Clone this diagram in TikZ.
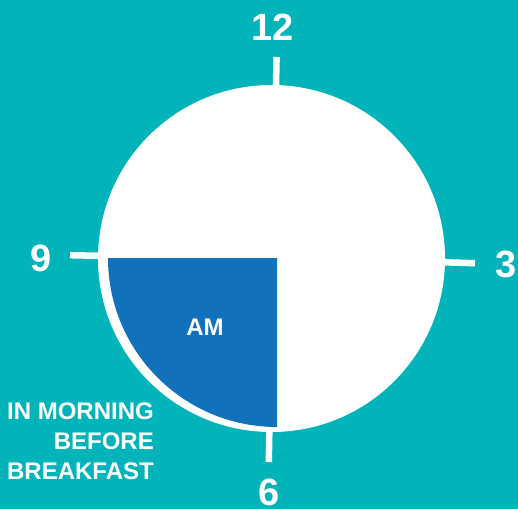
\documentclass[tikz,border=0pt]{standalone}
\usepackage{fontspec}
\setmainfont{Liberation Sans}
\usetikzlibrary{positioning}
\definecolor{bgteal}{HTML}{00B4BA}
\definecolor{amblue}{HTML}{1172BB}

\begin{document}
\begin{tikzpicture}[x=1pt,y=1pt,
hour/.style={text=white,font=\fontsize{38}{38}\selectfont\bfseries,inner sep=0pt},
note/.style={text=white,font=\fontsize{24}{30}\selectfont\bfseries,inner sep=0pt,align=right},
tickmark/.style={draw=white,line width=6.5pt} ]

\fill[bgteal] (0,0) rectangle (518,-509);
\useasboundingbox (0,0) rectangle (518,-509);

\draw[tickmark] (276.6,-57) -- (275.8,-95);
\draw[tickmark] (475,-263.2) -- (435,-262);
\draw[tickmark] (70,-255.2) -- (110,-256);
\draw[tickmark] (268.8,-462) -- (269.5,-420);

\node[circle,fill=white,minimum size=347pt,inner sep=0pt] (dial) at (271.5,-258.5) {};

\fill[amblue] (277,-258) -- (108,-258) arc[start angle=180,end angle=270,radius=169] -- cycle;

\node[note] (am) at (205,-327) {AM};

\node[hour,anchor=base] (h12) at (272.5,-40) {12};
\node[hour,anchor=base] (h3) at (506,-277) {3};
\node[hour,anchor=base] (h9) at (41,-271) {9};
\node[hour,anchor=base] (h6) at (269.5,-505) {6};

\node[note,anchor=north east] (when) at (154,-403) {IN MORNING\\BEFORE\\BREAKFAST};

\end{tikzpicture}
\end{document}
